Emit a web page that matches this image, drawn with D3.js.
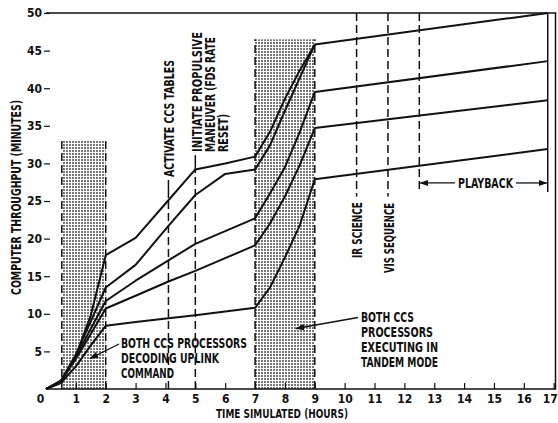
<!DOCTYPE html>
<html><head><meta charset="utf-8">
<script src="https://cdn.jsdelivr.net/npm/d3@7"></script>
<style>
html,body{margin:0;padding:0;background:#fff;}
svg{display:block;}
text{font-family:'Liberation Sans Narrow','Arial Narrow','DejaVu Sans Condensed',sans-serif;font-weight:bold;fill:#111;}
</style></head>
<body>
<svg id="chart" width="558" height="423"></svg>
<script>
// ---- data ----
const hours = [0, 0.5, 1, 1.5, 2, 3, 4.1, 5, 6, 7, 7.5, 8, 8.5, 9, 16.8];
const line1 = [0, 1.0, 4.4, 9.8, 17.8, 20.1, 25.1, 29.2, 30.0, 30.9, 34.2, 38.6, 42.4, 45.8, 50.0];
const line2 = [0, 1.1, 4.6, 9.0, 13.5, 16.5, 21.7, 25.8, 28.6, 29.2, 32.4, 37.0, 41.4, 45.8, null];
const line3 = [0, 1.1, 4.3, 8.0, 11.7, 14.4, 17.1, 19.3, 21.0, 22.7, 26.0, 29.5, 34.2, 39.5, 43.6];
const line4 = [0, 1.0, 4.0, 7.3, 10.7, 12.4, 14.3, 15.7, 17.4, 19.1, 22.0, 25.6, 29.8, 34.7, 38.4];
const line5 = [0, 0.8, 3.0, 5.8, 8.4, 8.9, 9.4, 9.8, 10.3, 10.8, 13.5, 17.5, 21.8, 27.9, 31.9];
const seriesList = [line1, line2, line3, line4, line5];

const xTicks = d3.range(0, 18);
const yTicks = [5, 10, 15, 20, 25, 30, 35, 40, 45, 50];

// shaded periods: [start hour, end hour, top value]
const shadedPeriods = [[0.53, 2, 33.0], [7, 9, 46.5]];
// event markers
const activateHour = 4.1, initiateHour = 5, irHour = 10.4, visHour = 11.45;
const playbackStart = 12.5, playbackEnd = 16.8;

const xTitle = "TIME SIMULATED (HOURS)";
const yTitle = "COMPUTER THROUGHPUT (MINUTES)";

// ---- scales ----
const svg = d3.select("#chart");
const x = d3.scaleLinear().domain([0, 17]).range([46, 553.7]);
const y = d3.scaleLinear().domain([0, 50]).range([389, 13]);
const ink = "#111";

// pattern for stipple
const defs = svg.append("defs");
const pat = defs.append("pattern").attr("id", "dots").attr("patternUnits", "userSpaceOnUse")
  .attr("width", 3).attr("height", 3);
pat.append("rect").attr("width", 3).attr("height", 3).attr("fill", "#fff");
pat.append("rect").attr("width", 2).attr("height", 2).attr("fill", "#777");
defs.append("marker").attr("id", "arr").attr("viewBox", "0 0 10 10").attr("refX", 9).attr("refY", 5)
  .attr("markerWidth", 7).attr("markerHeight", 7).attr("orient", "auto-start-reverse")
  .append("path").attr("d", "M0,1.5 L10,5 L0,8.5 Z").attr("fill", ink);

// shaded boxes
shadedPeriods.forEach(([a, b, top]) => {
  svg.append("rect").attr("x", x(a)).attr("y", y(top)).attr("width", x(b) - x(a)).attr("height", y(0) - y(top))
    .attr("fill", "url(#dots)");
  [a, b].forEach(h => {
    svg.append("line").attr("x1", x(h)).attr("x2", x(h)).attr("y1", y(0)).attr("y2", y(top))
      .attr("stroke", ink).attr("stroke-width", 1.5).attr("stroke-dasharray", "8,4");
  });
});

// frame: bottom, right, top
svg.append("path").attr("d", `M${x(0)},${y(0)} H555.5 V${y(50)} H${x(0)}`)
  .attr("fill", "none").attr("stroke", ink).attr("stroke-width", 1.5);

// x axis
const xa = svg.append("g").attr("transform", `translate(0,${y(0)})`)
  .call(d3.axisBottom(x).tickValues(xTicks).tickSize(-6).tickPadding(5).tickFormat(d3.format("d")));
xa.select(".domain").remove();
xa.selectAll(".tick line").attr("stroke", ink).attr("stroke-width", 1.2);
xa.selectAll(".tick").filter(d => d === 0).select("line").remove();
xa.selectAll(".tick text").attr("font-size", 12).attr("fill", ink).attr("font-family", null)
  .attr("dx", d => d === 0 ? -6 : (d === 17 ? -4 : 0));

// y axis
const ya = svg.append("g").attr("transform", `translate(${x(0)},0)`)
  .call(d3.axisLeft(y).tickValues(yTicks).tickSize(2).tickPadding(2));
ya.select(".domain").remove();
ya.selectAll(".tick line").attr("x1", 4).attr("x2", -2).attr("stroke", ink).attr("stroke-width", 1.2);
ya.selectAll(".tick text").attr("font-size", 12).attr("fill", ink).attr("font-family", null).attr("x", -4);

// dashed event lines
function dashed(h, v0, v1) {
  svg.append("line").attr("x1", x(h)).attr("x2", x(h)).attr("y1", y(v0)).attr("y2", y(v1))
    .attr("stroke", ink).attr("stroke-width", 1.5).attr("stroke-dasharray", "8,4");
}
function solid(x1, y1, x2, y2, w) {
  return svg.append("line").attr("x1", x1).attr("y1", y1).attr("x2", x2).attr("y2", y2)
    .attr("stroke", ink).attr("stroke-width", w || 1.5);
}
dashed(activateHour, 0, 25.4);
solid(x(activateHour), y(25.4), x(activateHour), y(27.8));
dashed(initiateHour, 0, 29.2);
solid(x(initiateHour), y(29.2), x(initiateHour), y(31.1));
dashed(irHour, 50, 25.6);
dashed(visHour, 50, 25.6);
dashed(playbackStart, 50, 26.4);
solid(x(playbackEnd), y(50), x(playbackEnd), y(26.2));

// data lines
const lineGen = d3.line().defined(d => d[1] !== null).x(d => x(d[0])).y(d => y(d[1]));
seriesList.forEach(vals => {
  svg.append("path").datum(hours.map((h, i) => [h, vals[i]]))
    .attr("d", lineGen).attr("fill", "none").attr("stroke", ink).attr("stroke-width", 2)
    .attr("stroke-linejoin", "round");
});

// text helper with fitted length
function fit(sel, len) {
  return sel.attr("textLength", len).attr("lengthAdjust", "spacingAndGlyphs");
}
// rotated labels
function vtext(cx, by, str, len) {
  fit(svg.append("text").attr("transform", `translate(${cx},${by}) rotate(-90)`)
    .attr("dy", "0.36em").attr("font-size", 13.5).text(str), len);
}
vtext(x(activateHour) + 1, 177, "ACTIVATE CCS TABLES", 117);
vtext(x(initiateHour) + 2, 152, "INITIATE PROPULSIVE", 120);
vtext(x(initiateHour) + 15, 152, "MANEUVER (FDS RATE", 115);
vtext(x(initiateHour) + 28, 152, "RESET)", 38);
vtext(x(irHour) + 1, 258, "IR SCIENCE", 56);
vtext(x(visHour) + 1, 273, "VIS SEQUENCE", 70);

// playback arrow
const pbY = y(27.4);
svg.append("line").attr("x1", 455).attr("x2", x(playbackStart) + 1).attr("y1", pbY).attr("y2", pbY)
  .attr("stroke", ink).attr("stroke-width", 1.3).attr("marker-end", "url(#arr)");
svg.append("line").attr("x1", 516).attr("x2", x(playbackEnd) - 1).attr("y1", pbY).attr("y2", pbY)
  .attr("stroke", ink).attr("stroke-width", 1.3).attr("marker-end", "url(#arr)");
fit(svg.append("text").attr("x", 458).attr("y", pbY).attr("dy", "0.36em")
  .attr("font-size", 13.5).text("PLAYBACK"), 55);

// annotations
const ann1 = ["BOTH CCS PROCESSORS", "DECODING UPLINK", "COMMAND"];
const ann1Len = [126, 98, 53];
ann1.forEach((s, i) => fit(svg.append("text").attr("x", 121).attr("y", 348 + i * 15)
  .attr("font-size", 14).text(s), ann1Len[i]));
svg.append("line").attr("x1", 119).attr("y1", 344).attr("x2", 90).attr("y2", 358.5)
  .attr("stroke", ink).attr("stroke-width", 1.3).attr("marker-end", "url(#arr)");

const ann2 = ["BOTH CCS", "PROCESSORS", "EXECUTING IN", "TANDEM MODE"];
const ann2Len = [53, 72, 77, 77];
ann2.forEach((s, i) => fit(svg.append("text").attr("x", 361).attr("y", 322 + i * 15)
  .attr("font-size", 13.5).text(s), ann2Len[i]));
svg.append("line").attr("x1", 358).attr("y1", 317.5).attr("x2", 296).attr("y2", 328.5)
  .attr("stroke", ink).attr("stroke-width", 1.3).attr("marker-end", "url(#arr)");

// axis titles
fit(svg.append("text").attr("x", 216).attr("y", 418).attr("font-size", 13).text(xTitle), 132);
fit(svg.append("text").attr("transform", "translate(16,295) rotate(-90)").attr("dy", "0.36em")
  .attr("font-size", 13.5).text(yTitle), 195);
</script>
</body></html>
